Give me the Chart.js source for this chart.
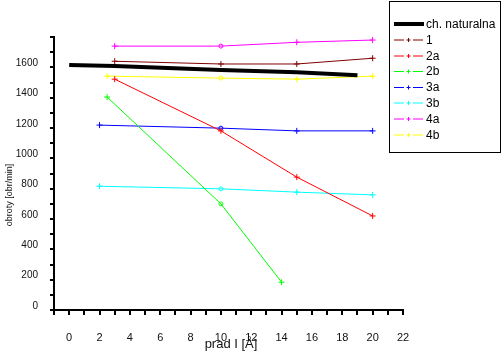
<!DOCTYPE html>
<html>
<head>
<meta charset="utf-8">
<script src="https://cdn.jsdelivr.net/npm/chart.js@4/dist/chart.umd.min.js"></script>
<style>
  html, body { margin: 0; padding: 0; background: #fff; }
  #wrap { width: 502px; height: 352px; position: relative; }
</style>
</head>
<body>
<div id="wrap"><canvas id="chart"></canvas></div>
<script>
// values: x = prąd [A], y = obroty [obr/min]
const naturalX = [0, 3, 10, 15, 19];
const naturalY = [1615, 1608, 1583, 1568, 1547];

const s1X = [3, 10, 15, 20];
const s1Y = [1640, 1622, 1622, 1660];
const s2aX = [3, 10, 15, 20];
const s2aY = [1522, 1181, 876, 620];
const s2bX = [2.5, 10, 14];
const s2bY = [1404, 700, 183];
const s3aX = [2, 10, 15, 20];
const s3aY = [1219, 1199, 1181, 1181];
const s3bX = [2, 10, 15, 20];
const s3bY = [816, 799, 777, 759];
const s4aX = [3, 10, 15, 20];
const s4aY = [1740, 1740, 1765, 1780];
const s4bX = [2.5, 10, 15, 20];
const s4bY = [1542, 1529, 1522, 1542];

const seriesNames = ['ch. naturalna', '1', '2a', '2b', '3a', '3b', '4a', '4b'];
const seriesColors = ['#000000', '#800000', '#ff0000', '#00ff00', '#0000ff', '#00ffff', '#ff00ff', '#ffff00'];
const xTickLabels = [0, 2, 4, 6, 8, 10, 12, 14, 16, 18, 20, 22];
const yTickLabels = [0, 200, 400, 600, 800, 1000, 1200, 1400, 1600];
const circleAt10 = ['2b', '3a', '3b', '4a', '4b'];

const FONT = "'Liberation Sans Narrow', 'Liberation Sans', Arial, sans-serif";

function pts(xs, ys) {
    return xs.map((x, i) => ({ x: x, y: ys[i] }));
}

const allX = [naturalX, s1X, s2aX, s2bX, s3aX, s3bX, s4aX, s4bX];
const allY = [naturalY, s1Y, s2aY, s2bY, s3aY, s3bY, s4aY, s4bY];

function isCircle(ctx, name) {
    return ctx.raw && ctx.raw.x === 10 && circleAt10.includes(name);
}

const datasets = seriesNames.map((name, i) => ({
    label: name,
    data: pts(allX[i], allY[i]),
    borderColor: seriesColors[i],
    backgroundColor: 'transparent',
    borderWidth: i === 0 ? 4 : 1,
    pointRadius: ctx => i === 0 ? 0 : (isCircle(ctx, name) ? 2 : 3),
    pointBorderWidth: 1,
    pointBorderColor: seriesColors[i],
    pointBackgroundColor: 'transparent',
    pointStyle: ctx => isCircle(ctx, name) ? 'circle' : 'cross',
    tension: 0
}));

// legend box on the right and the axis titles
const extras = {
    id: 'extras',
    afterDraw(chart) {
        const c = chart.ctx;
        c.save();
        c.strokeStyle = '#000';
        c.lineWidth = 1;
        c.strokeRect(389.5, 1.5, 111, 151);
        c.font = "12px 'Liberation Sans', Arial";
        c.textBaseline = 'middle';
        const rowY = [24, 39.5, 55.5, 71, 87, 102.5, 118.5, 134.5];
        chart.data.datasets.forEach((ds, i) => {
            const y = rowY[i];
            c.strokeStyle = ds.borderColor;
            if (i === 0) {
                c.lineWidth = 4;
                c.beginPath(); c.moveTo(394, y); c.lineTo(424, y); c.stroke();
            } else {
                c.lineWidth = 1;
                c.beginPath();
                c.moveTo(394, y + 0.5); c.lineTo(404, y + 0.5);
                c.moveTo(413, y + 0.5); c.lineTo(423, y + 0.5);
                c.moveTo(408.5, y - 1.5); c.lineTo(408.5, y + 2.5);
                c.moveTo(406.5, y + 0.5); c.lineTo(410.5, y + 0.5);
                c.stroke();
            }
            c.fillStyle = '#000';
            c.fillText(ds.label, 426, y + 1);
        });

        c.font = "13px " + FONT;
        c.textAlign = 'center';
        c.fillStyle = '#111';
        c.fillText('prad I [Å]', 231, 344);
        c.translate(10, 195);
        c.rotate(-Math.PI / 2);
        c.font = "9px " + FONT;
        c.fillText('obroty [obr/min]', 0, 0);
        c.restore();
    }
};

new Chart(document.getElementById('chart').getContext('2d'), {
    type: 'line',
    data: { datasets: datasets },
    options: {
        responsive: true,
        maintainAspectRatio: false,
        animation: false,
        layout: { padding: { top: 37, right: 99, left: 0, bottom: 0 } },
        plugins: {
            legend: { display: false },
            tooltip: { enabled: false }
        },
        scales: {
            x: {
                type: 'linear',
                min: -1,
                max: 22,
                afterFit: s => { s.height = 42; },
                border: { color: '#000', width: 2 },
                grid: { drawOnChartArea: false, color: '#000', lineWidth: 2, tickLength: 5 },
                ticks: {
                    stepSize: 1,
                    autoSkip: false,
                    maxRotation: 0,
                    padding: 16,
                    color: '#111',
                    font: { family: FONT, size: 11 },
                    callback: v => xTickLabels.includes(v) ? String(v) : ''
                }
            },
            y: {
                min: 0,
                max: 1800,
                afterFit: s => { s.width = 54; },
                border: { color: '#000', width: 2 },
                grid: { drawOnChartArea: false, color: '#000', lineWidth: 2, tickLength: 4 },
                ticks: {
                    stepSize: 100,
                    autoSkip: false,
                    padding: 12,
                    labelOffset: -4,
                    color: '#111',
                    font: { family: FONT, size: 10 },
                    callback: v => yTickLabels.includes(v) ? String(v) : ''
                }
            }
        }
    },
    plugins: [extras]
});
</script>
</body>
</html>
